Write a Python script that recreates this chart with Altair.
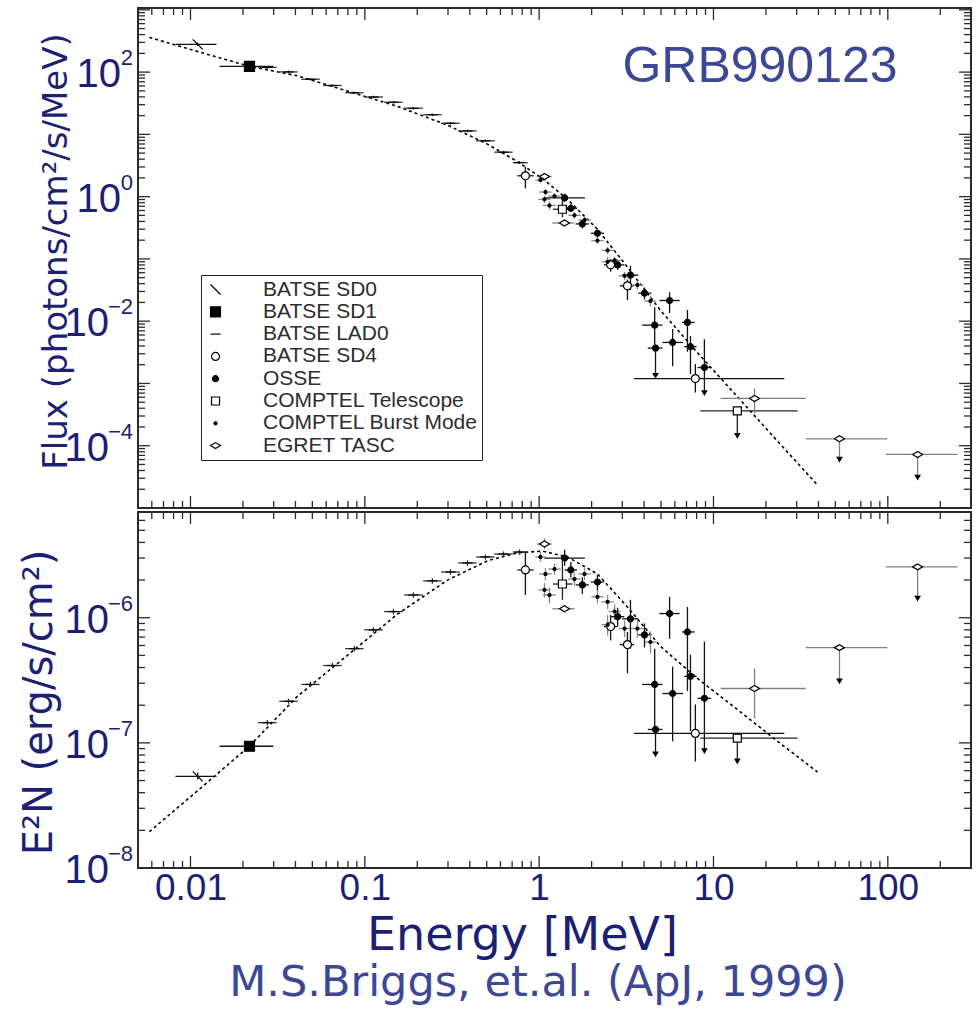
import altair as alt
import pandas as pd

NAVY = "#1c1f73"
SLATE = "#3c4896"
INK = "#2a2a2a"
MEV_TO_ERG = 1.602e-6

X_DOMAIN = [0.005, 300]
TOP_DOMAIN = [1e-5, 1.07e3]
BOT_DOMAIN = [1e-8, 7e-6]
W = 833
H_TOP = 500
H_BOT = 356

INSTRUMENTS = ["BATSE SD0", "BATSE SD1", "BATSE LAD0", "BATSE SD4", "OSSE",
               "COMPTEL Telescope", "COMPTEL Burst Mode", "EGRET TASC"]
SHAPES = [
    "M-1,-1L1,1",
    "M-1,-1H1V1H-1Z",
    "M-1,0H1",
    "M-0.8,0A0.8,0.8 0 1,0 0.8,0A0.8,0.8 0 1,0 -0.8,0Z",
    "M-0.6,0A0.6,0.6 0 1,0 0.6,0A0.6,0.6 0 1,0 -0.6,0Z",
    "M-0.8,-0.8H0.8V0.8H-0.8Z",
    "M-0.3,0A0.3,0.3 0 1,0 0.3,0A0.3,0.3 0 1,0 -0.3,0Z",
    "M-1,0L0,-0.6L1,0L0,0.6Z",
]
FILLS = ["white", "black", "white", "white", "black", "white", "black", "white"]
STROKES = ["black"] * 8
BAR_COLORS = ["#111111", "#111111", "#333333", "#111111", "#111111",
              "#222222", "#8a8a8a", "#808080"]

# ---- measured points (E^2 N panel values, erg/s/cm^2) ----
inst = (["BATSE SD0"] + ["BATSE SD1"] + ["BATSE LAD0"] * 14 + ["BATSE SD4"] * 4
        + ["OSSE"] * 14 + ["COMPTEL Telescope"] * 2 + ["COMPTEL Burst Mode"] * 14
        + ["EGRET TASC"] * 5)
energy = [
    0.0110,
    0.0218,
    0.0276, 0.0365, 0.0488, 0.0652, 0.0871, 0.112, 0.146, 0.190, 0.244, 0.310, 0.388, 0.492, 0.624, 0.771,
    0.834, 2.57, 3.21, 7.87,
    1.40, 1.52, 1.77, 2.16, 2.82, 3.34, 4.02, 4.60, 5.60, 7.09, 5.83, 7.38, 8.87, 4.65,
    1.36, 13.7,
    1.017, 1.087, 1.225, 1.073, 1.146, 1.594, 1.82, 2.16, 2.47, 2.47, 2.71, 3.09, 3.66, 4.35,
    1.073, 1.397, 17.2, 52.8, 148.2,
]
energy_lo = [
    0.0082,
    0.0147,
    0.0244, 0.0323, 0.0432, 0.0577, 0.0771, 0.099, 0.129, 0.168, 0.216, 0.274, 0.343, 0.435, 0.552, 0.705,
    0.75, 2.35, 2.90, 3.50,
    1.07, 1.40, 1.62, 1.98, 2.58, 3.00, 3.70, 3.90, 4.90, 6.60, 5.10, 6.80, 8.10, 4.20,
    1.20, 8.4,
    0.95, 1.00, 1.13, 0.99, 1.05, 1.47, 1.68, 1.99, 2.28, 2.28, 2.50, 2.85, 3.38, 4.00,
    0.97, 1.19, 11.0, 33.8, 97.3,
]
energy_hi = [
    0.0141,
    0.0299,
    0.0312, 0.0412, 0.0551, 0.0737, 0.0984, 0.127, 0.165, 0.215, 0.276, 0.350, 0.438, 0.556, 0.705, 0.860,
    0.93, 2.80, 3.50, 25.5,
    1.83, 1.65, 1.93, 2.36, 3.08, 3.70, 4.40, 5.10, 6.40, 7.80, 6.70, 8.00, 9.70, 5.10,
    1.55, 30.4,
    1.09, 1.18, 1.33, 1.16, 1.25, 1.73, 1.98, 2.35, 2.68, 2.68, 2.94, 3.35, 3.97, 4.70,
    1.18, 1.594, 33.8, 99.3, 251,
]
e2n = [
    5.4e-8,
    9.4e-8,
    1.45e-7, 2.15e-7, 2.93e-7, 4.15e-7, 5.66e-7, 8.0e-7, 1.12e-6, 1.52e-6, 1.97e-6, 2.32e-6, 2.74e-6, 3.06e-6, 3.23e-6, 3.35e-6,
    2.41e-6, 8.5e-7, 6.1e-7, 1.19e-7,
    3.0e-6, 2.41e-6, 1.83e-6, 1.93e-6, 1.02e-6, 9.8e-7, 7.3e-7, 2.93e-7, 1.08e-6, 7.7e-7, 2.48e-7, 3.4e-7, 2.27e-7, 1.28e-7,
    1.86e-6, 1.09e-7,
    3.06e-6, 2.24e-6, 2.45e-6, 1.67e-6, 1.52e-6, 2.04e-6, 2.24e-6, 1.47e-6, 1.34e-6, 8.8e-7, 1.12e-6, 8.2e-7, 8.2e-7, 6.4e-7,
    3.88e-6, 1.18e-6, 2.72e-7, 5.77e-7, 2.55e-6,
]
e2n_lo = [
    5.1e-8,
    9.0e-8,
    1.38e-7, 2.05e-7, 2.79e-7, 3.95e-7, 5.39e-7, 7.6e-7, 1.06e-6, 1.44e-6, 1.87e-6, 2.20e-6, 2.60e-6, 2.91e-6, 3.07e-6, 3.18e-6,
    1.52e-6, 6.6e-7, 3.6e-7, 7.1e-8,
    2.6e-6, 2.1e-6, 1.55e-6, 1.65e-6, 8.5e-7, 5.66e-7, 5.8e-7, 1.3e-7, 6.8e-7, 2.6e-7, 1.03e-7, 1.24e-7, 8.6e-8, 8.1e-8,
    1.39e-6, 7.1e-8,
    2.8e-6, 2.0e-6, 2.2e-6, 1.45e-6, 1.3e-6, 1.8e-6, 2.0e-6, 1.3e-6, 1.17e-6, 7.2e-7, 9.6e-7, 7.0e-7, 6.9e-7, 5.2e-7,
    3.55e-6, 1.10e-6, 1.57e-7, 3.1e-7, 1.42e-6,
]
e2n_hi = [
    5.8e-8,
    9.8e-8,
    1.52e-7, 2.26e-7, 3.08e-7, 4.36e-7, 5.94e-7, 8.4e-7, 1.18e-6, 1.60e-6, 2.07e-6, 2.44e-6, 2.88e-6, 3.21e-6, 3.39e-6, 3.52e-6,
    3.35e-6, 1.05e-6, 7.7e-7, 2.03e-7,
    3.5e-6, 2.8e-6, 2.1e-6, 2.2e-6, 1.2e-6, 1.39e-6, 9.0e-7, 5.66e-7, 1.47e-6, 1.22e-6, 4.07e-7, 5.07e-7, 6.45e-7, 1.28e-7,
    2.95e-6, 1.09e-7,
    3.35e-6, 2.5e-6, 2.7e-6, 1.9e-6, 1.75e-6, 2.3e-6, 2.5e-6, 1.65e-6, 1.52e-6, 1.05e-6, 1.28e-6, 9.5e-7, 9.6e-7, 7.8e-7,
    4.3e-6, 1.27e-6, 3.93e-7, 5.77e-7, 2.55e-6,
]
arrow = ([0, 0] + [0] * 14 + [0] * 4 + [0] * 12 + [1, 1] + [0, 1] + [0] * 14
         + [0, 0, 0, 1, 1])
# arrow tips in the flux panel (photons/cm^2/s/MeV), in order of arrow rows
flux_arrow_tip = [7.0e-4, 1.32e-3, 1.44e-4, 5.96e-5, 3.07e-5]

# ---- dashed model curve (E^2 N) ----
model_energy = [0.00581, 0.01096, 0.02178, 0.0410, 0.0794, 0.154, 0.298, 0.505, 0.750,
                1.044, 1.454, 2.16, 3.21, 4.97, 8.09, 13.7, 23.3, 39.5]
model_e2n = [1.95e-8, 4.13e-8, 9.42e-8, 2.35e-7, 5.0e-7, 1.07e-6, 2.0e-6, 2.85e-6, 3.3e-6,
             3.41e-6, 3.06e-6, 2.24e-6, 1.22e-6, 5.9e-7, 3.27e-7, 1.85e-7, 1.03e-7, 5.85e-8]

# ---- axis label text ----
top_label_values = [1e2, 1.0, 1e-2, 1e-4]
top_label_exps = ["2", "0", "−2", "−4"]
bot_label_values = [1e-6, 1e-7, 1e-8]
bot_label_exps = ["−6", "−7", "−8"]
x_label_values = [0.01, 0.1, 1, 10, 100]

TITLE_TEXT = "GRB990123"
CITATION = "M.S.Briggs, et.al. (ApJ, 1999)"

# ---------- tables ----------
bar_color = dict(zip(INSTRUMENTS, BAR_COLORS))
bot = pd.DataFrame({"inst": inst, "E": energy, "Elo": energy_lo, "Ehi": energy_hi,
                    "v": e2n, "vlo": e2n_lo, "vhi": e2n_hi, "arrow": arrow})
bot["col"] = bot["inst"].map(bar_color)
conv = MEV_TO_ERG * bot["E"] ** 2
top = bot.copy()
top["v"] = bot["v"] / conv
top["vlo"] = bot["vlo"] / conv
top["vhi"] = bot["vhi"] / conv
top.loc[top["arrow"] == 1, "vlo"] = flux_arrow_tip

model_bot = pd.DataFrame({"E": model_energy, "v": model_e2n})
model_top = model_bot.copy()
model_top["v"] = model_bot["v"] / (MEV_TO_ERG * model_bot["E"] ** 2)


def log_ticks(lo, hi, d0, d1):
    out = []
    for d in range(d0, d1 + 1):
        for m in range(1, 10):
            t = m * 10.0 ** d
            if lo * 0.999 <= t <= hi * 1.001:
                out.append({"t": t, "major": m == 1})
    return pd.DataFrame(out)


xticks = log_ticks(X_DOMAIN[0], X_DOMAIN[1], -3, 2)
yticks_top = log_ticks(TOP_DOMAIN[0], TOP_DOMAIN[1], -5, 3)
yticks_bot = log_ticks(BOT_DOMAIN[0], BOT_DOMAIN[1], -8, -6)

XS = alt.Scale(type="log", domain=X_DOMAIN, nice=False)
LABEL_FONT = "Liberation Sans, DejaVu Sans"


def panel(pts, model, ydom, height, yticks, labels, yax, xax, legend, extra):
    ys = alt.Scale(type="log", domain=ydom, nice=False)

    def X(f):
        return alt.X(f, scale=XS, axis=xax)

    def Y(f):
        return alt.Y(f, scale=ys, axis=yax)

    layers = []
    for major, L in ((True, 12), (False, 7)):
        xd = alt.Chart(xticks[xticks["major"] == major])
        yd = alt.Chart(yticks[yticks["major"] == major])
        rule = dict(color=INK, strokeWidth=1.3)
        layers.append(xd.mark_rule(**rule).encode(x=X("t:Q"), y=alt.value(0), y2=alt.value(L)))
        layers.append(xd.mark_rule(**rule).encode(x=X("t:Q"), y=alt.value(height),
                                                  y2=alt.value(height - L)))
        layers.append(yd.mark_rule(**rule).encode(y=Y("t:Q"), x=alt.value(0), x2=alt.value(L)))
        layers.append(yd.mark_rule(**rule).encode(y=Y("t:Q"), x=alt.value(W), x2=alt.value(W - L)))

    # y tick labels: big "10" plus a small exponent
    lab = alt.Chart(labels)
    txt = dict(font=LABEL_FONT, color=NAVY, baseline="middle")
    layers.append(lab.transform_filter("!datum.neg").mark_text(
        align="right", fontSize=40, dy=3, **txt).encode(y=Y("t:Q"), x=alt.value(-17),
                                                         text=alt.value("10")))
    layers.append(lab.transform_filter("datum.neg").mark_text(
        align="right", fontSize=40, dy=3, **txt).encode(y=Y("t:Q"), x=alt.value(-29),
                                                         text=alt.value("10")))
    layers.append(lab.mark_text(align="right", fontSize=22, dy=-14, **txt).encode(
        y=Y("t:Q"), x=alt.value(-5), text="exp:N"))

    layers.append(alt.Chart(model).mark_line(strokeDash=[3, 3], color="black", strokeWidth=1.6,
                                             clip=True).encode(x=X("E:Q"), y=Y("v:Q")))
    base = alt.Chart(pts)
    layers.append(base.mark_rule(strokeWidth=1.3, clip=True).encode(
        x=X("Elo:Q"), x2="Ehi:Q", y=Y("v:Q"), color=alt.Color("col:N", scale=None)))
    layers.append(base.mark_rule(strokeWidth=1.3, clip=True).encode(
        x=X("E:Q"), y=Y("vlo:Q"), y2="vhi:Q", color=alt.Color("col:N", scale=None)))
    layers.append(base.transform_filter("datum.arrow == 1").mark_point(
        shape="triangle-down", filled=True, color="black", size=45, opacity=1, clip=True).encode(
        x=X("E:Q"), y=Y("vlo:Q")))
    layers.append(base.mark_point(strokeWidth=1.2, opacity=1, size=100, clip=True).encode(
        x=X("E:Q"), y=Y("v:Q"),
        shape=alt.Shape("inst:N", scale=alt.Scale(domain=INSTRUMENTS, range=SHAPES), legend=legend),
        fill=alt.Fill("inst:N", scale=alt.Scale(domain=INSTRUMENTS, range=FILLS), legend=legend),
        stroke=alt.Stroke("inst:N", scale=alt.Scale(domain=INSTRUMENTS, range=STROKES), legend=legend),
    ))
    layers.extend(extra)
    return alt.layer(*layers).properties(width=W, height=height)


yax_top = alt.Axis(
    labels=False, ticks=False, tickSize=0, domain=False, grid=False,
    title="Flux (photons/cm²/s/MeV)", titleFont="DejaVu Sans", titleFontSize=34,
    titleFontWeight="normal", titleColor=NAVY, titleX=-72, titleY=243,
    titleBaseline="alphabetic", titleAngle=270)

yax_bot = alt.Axis(
    labels=False, ticks=False, tickSize=0, domain=False, grid=False,
    title="E²N (erg/s/cm²)", titleFont="DejaVu Sans", titleFontSize=40,
    titleFontWeight="normal", titleColor=NAVY, titleX=-87, titleY=190,
    titleBaseline="alphabetic", titleAngle=270)

xax_bot = alt.Axis(
    values=x_label_values, labelExpr="format(datum.value, '~g')",
    ticks=False, tickSize=0, domain=False, grid=False,
    labelFont="Liberation Sans", labelFontSize=37, labelColor=NAVY, labelPadding=2,
    title="Energy [MeV]", titleFont="DejaVu Sans", titleFontSize=46, titleFontWeight="normal",
    titleColor=NAVY, titleX=384, titleY=81, titleBaseline="alphabetic")

legend = alt.Legend(
    title=None, orient="none", legendX=63, legendY=267, strokeColor="#222222",
    fillColor="white", padding=4, labelFont="Liberation Sans", labelFontSize=21,
    labelColor="#2d2d2d", rowPadding=0.3, symbolSize=100, symbolStrokeWidth=1.2,
    labelOffset=37, symbolOffset=0, labelLimit=400)

top_labels = pd.DataFrame({"t": top_label_values, "exp": top_label_exps,
                           "neg": [e.startswith("−") for e in top_label_exps]})
bot_labels = pd.DataFrame({"t": bot_label_values, "exp": bot_label_exps,
                           "neg": [e.startswith("−") for e in bot_label_exps]})

grb_text = alt.Chart(pd.DataFrame({"t": [TITLE_TEXT]})).mark_text(
    font="Liberation Sans", fontSize=50, color=SLATE, align="center", baseline="middle").encode(
    text="t:N", x=alt.value(622), y=alt.value(59))

cite_text = alt.Chart(pd.DataFrame({"t": [CITATION]})).mark_text(
    font="DejaVu Sans", fontSize=43, color=SLATE, align="center", baseline="middle").encode(
    text="t:N", x=alt.value(400), y=alt.value(471))

top_panel = panel(top, model_top, TOP_DOMAIN, H_TOP, yticks_top, top_labels, yax_top, None,
                  legend, [grb_text])
bot_panel = panel(bot, model_bot, BOT_DOMAIN, H_BOT, yticks_bot, bot_labels, yax_bot, xax_bot,
                  None, [cite_text])

chart = alt.vconcat(top_panel, bot_panel, spacing=0).resolve_scale(
    x="independent", y="independent", shape="independent", fill="independent",
    stroke="independent").properties(
    padding={"left": 18, "top": 6, "right": 4, "bottom": 0}).configure_view(
    stroke=INK, strokeWidth=2)

chart.save("out.html", embed_options={"renderer": "svg", "actions": False})
